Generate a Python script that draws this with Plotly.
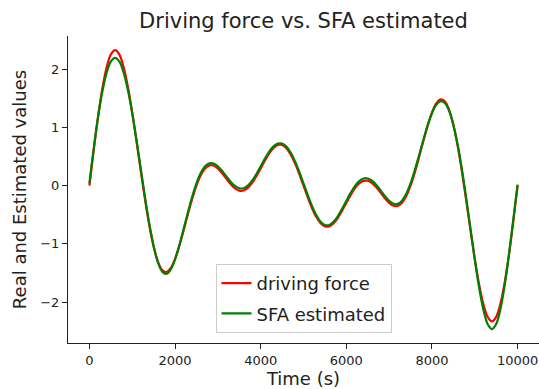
import plotly.graph_objects as go

time_s = [0, 100, 200, 300, 400, 500, 600, 700, 800, 900,
          1000, 1100, 1200, 1300, 1400, 1500, 1600, 1700, 1800, 1900,
          2000, 2100, 2200, 2300, 2400, 2500, 2600, 2700, 2800, 2900,
          3000, 3100, 3200, 3300, 3400, 3500, 3600, 3700, 3800, 3900,
          4000, 4100, 4200, 4300, 4400, 4500, 4600, 4700, 4800, 4900,
          5000, 5100, 5200, 5300, 5400, 5500, 5600, 5700, 5800, 5900,
          6000, 6100, 6200, 6300, 6400, 6500, 6600, 6700, 6800, 6900,
          7000, 7100, 7200, 7300, 7400, 7500, 7600, 7700, 7800, 7900,
          8000, 8100, 8200, 8300, 8400, 8500, 8600, 8700, 8800, 8900,
          9000, 9100, 9200, 9300, 9400, 9500, 9600, 9700, 9800, 9900,
          10000]

driving_force = [0.0, 0.608, 1.174, 1.657, 2.025, 2.254, 2.330, 2.254, 2.034, 1.692,
                 1.257, 0.764, 0.251, -0.242, -0.684, -1.044, -1.303, -1.451, -1.485, -1.415,
                 -1.257, -1.032, -0.768, -0.492, -0.229, 0.0, 0.178, 0.295, 0.349, 0.346,
                 0.297, 0.215, 0.119, 0.027, -0.045, -0.084, -0.083, -0.038, 0.047, 0.163,
                 0.297, 0.433, 0.556, 0.649, 0.700, 0.700, 0.646, 0.539, 0.387, 0.202,
                 0.0, -0.202, -0.387, -0.539, -0.646, -0.700, -0.700, -0.649, -0.556, -0.433,
                 -0.297, -0.163, -0.047, 0.038, 0.083, 0.084, 0.045, -0.027, -0.119, -0.215,
                 -0.297, -0.346, -0.349, -0.295, -0.178, 0.0, 0.229, 0.492, 0.768, 1.032,
                 1.257, 1.415, 1.485, 1.451, 1.303, 1.044, 0.684, 0.242, -0.251, -0.764,
                 -1.257, -1.692, -2.034, -2.254, -2.330, -2.254, -2.025, -1.657, -1.174, -0.608,
                 0.0]

sfa_estimated = [0.040, 0.636, 1.170, 1.609, 1.934, 2.131, 2.196, 2.131, 1.942, 1.640,
                 1.246, 0.785, 0.289, -0.204, -0.659, -1.039, -1.317, -1.478, -1.516, -1.439,
                 -1.268, -1.026, -0.747, -0.460, -0.191, 0.040, 0.217, 0.332, 0.385, 0.382,
                 0.334, 0.254, 0.159, 0.067, -0.005, -0.044, -0.043, 0.002, 0.087, 0.202,
                 0.334, 0.467, 0.586, 0.676, 0.724, 0.724, 0.673, 0.570, 0.422, 0.241,
                 0.040, -0.163, -0.352, -0.508, -0.619, -0.676, -0.676, -0.622, -0.526, -0.399,
                 -0.260, -0.124, -0.007, 0.078, 0.123, 0.124, 0.085, 0.013, -0.080, -0.176,
                 -0.260, -0.310, -0.313, -0.258, -0.139, 0.040, 0.267, 0.524, 0.789, 1.038,
                 1.246, 1.391, 1.454, 1.424, 1.289, 1.049, 0.709, 0.280, -0.213, -0.743,
                 -1.268, -1.744, -2.126, -2.377, -2.464, -2.377, -2.116, -1.705, -1.178, -0.580,
                 0.020]

x_ticks = [0, 2000, 4000, 6000, 8000, 10000]
y_ticks = [-2, -1, 0, 1, 2]

FONT = "DejaVu Sans"
TXT = "#222222"

fig = go.Figure()
fig.add_trace(go.Scatter(x=time_s, y=driving_force, mode="lines", name="driving force",
                         legendgroup="a",
                         line=dict(color="#ff0000", width=2.2, shape="spline")))
fig.add_trace(go.Scatter(x=time_s, y=sfa_estimated, mode="lines", name="SFA estimated",
                         legendgroup="b",
                         line=dict(color="#008000", width=2.2, shape="spline")))

fig.update_layout(
    width=539, height=389,
    margin=dict(l=68, r=0, t=36, b=46),
    paper_bgcolor="white", plot_bgcolor="white",
    font=dict(family=FONT, color=TXT),
    title=dict(text="Driving force vs. SFA estimated", x=0.5, xref="paper",
               y=1 - 21 / 389, yref="container", yanchor="middle",
               font=dict(size=21, family=FONT, color=TXT)),
    legend=dict(x=0.5, xanchor="center", y=0.033, yanchor="bottom",
                bgcolor="rgba(255,255,255,0.8)", bordercolor="#cccccc", borderwidth=1,
                font=dict(size=18, family=FONT, color=TXT), tracegroupgap=4),
    showlegend=True,
)
fig.update_xaxes(range=[-500, 10500], tickvals=x_ticks, ticktext=[str(v) for v in x_ticks],
                 showgrid=False, zeroline=False, showline=True, linecolor="#222222", linewidth=1,
                 ticks="outside", ticklen=5, tickwidth=1, tickcolor="#222222",
                 tickfont=dict(size=13, family=FONT, color=TXT),
                 title=dict(text="Time (s)", font=dict(size=18, family=FONT, color=TXT), standoff=4))
fig.update_yaxes(range=[-2.704, 2.573], tickvals=y_ticks,
                 showgrid=False, zeroline=False, showline=True, linecolor="#222222", linewidth=1,
                 ticks="outside", ticklen=5, tickwidth=1, tickcolor="#222222",
                 tickfont=dict(size=13, family=FONT, color=TXT),
                 title=dict(text="Real and Estimated values", font=dict(size=18, family=FONT, color=TXT),
                            standoff=8))

fig.write_html("out.html")
